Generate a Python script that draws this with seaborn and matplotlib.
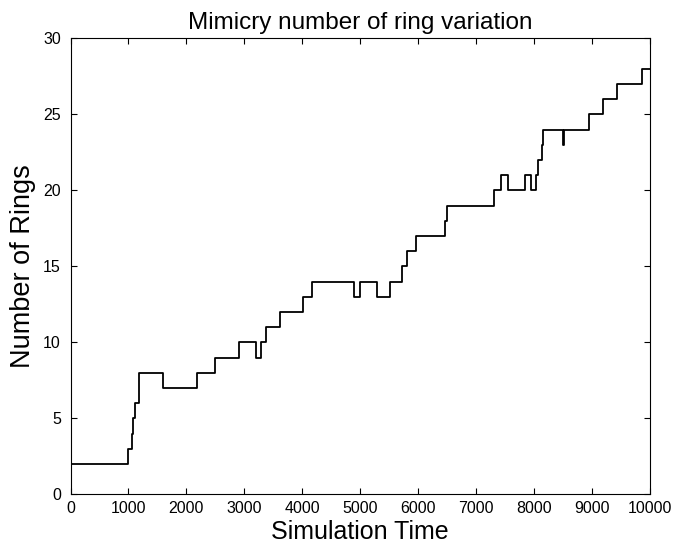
import matplotlib
matplotlib.use("Agg")
import matplotlib.pyplot as plt
from matplotlib import font_manager
import seaborn as sns
import pandas as pd

# Simulation times at which the ring count changes, and the count from that time on
change_times = [0, 985, 1056, 1084, 1110, 1190, 1590, 2185, 2490, 2910,
                3205, 3290, 3380, 3610, 4005, 4170, 4900, 4990, 5290, 5520,
                5716, 5800, 5965, 6455, 6495, 7313, 7430, 7545, 7840, 7950,
                8030, 8060, 8130, 8160, 8500, 8515, 8955, 9185, 9425, 9860,
                10000]
ring_counts = [2, 3, 4, 5, 6, 8, 7, 8, 9, 10,
               9, 10, 11, 12, 13, 14, 13, 14, 13, 14,
               15, 16, 17, 18, 19, 20, 21, 20, 21, 20,
               21, 22, 23, 24, 23, 24, 25, 26, 27, 28,
               28]

x_ticks = list(range(0, 10001, 1000))
y_ticks = list(range(0, 31, 5))

title = "Mimicry number of ring variation"
x_label = "Simulation Time"
y_label = "Number of Rings"

sns.set_style("white")
names = {f.name for f in font_manager.fontManager.ttflist}
label_font = "Liberation Sans" if "Liberation Sans" in names else "DejaVu Sans"
tick_font = "Liberation Sans Narrow" if "Liberation Sans Narrow" in names else label_font
plt.rcParams["font.family"] = [label_font, "DejaVu Sans"]
plt.rcParams["text.color"] = "black"
plt.rcParams["axes.labelcolor"] = "black"
plt.rcParams["xtick.color"] = "black"
plt.rcParams["ytick.color"] = "black"

df = pd.DataFrame({"time": change_times, "rings": ring_counts})

fig = plt.figure(figsize=(6.73, 5.52), dpi=100)
ax = fig.add_axes([0.1048, 0.1045, 0.9658 - 0.1048, 0.9306 - 0.1045])

sns.lineplot(data=df, x="time", y="rings", drawstyle="steps-post",
             color="black", linewidth=1.3, ax=ax, estimator=None)

ax.set_xlim(0, 10000)
ax.set_ylim(0, 30)
ax.set_xticks(x_ticks)
ax.set_yticks(y_ticks)
ax.set_xticklabels([str(t) for t in x_ticks], fontfamily=tick_font, fontsize=11.5)
ax.set_yticklabels([str(t) for t in y_ticks], fontfamily=tick_font, fontsize=11.5)
ax.tick_params(axis="both", direction="in", length=4, width=0.8, colors="black",
               top=True, right=True, bottom=True, left=True)
ax.tick_params(axis="x", pad=5)
ax.tick_params(axis="y", pad=7)

for spine in ax.spines.values():
    spine.set_visible(True)
    spine.set_color("black")
    spine.set_linewidth(0.8)

ax.set_title(title, fontsize=17.5, pad=7, color="black")
ax.set_xlabel(x_label, fontsize=18, labelpad=3)
ax.set_ylabel(y_label, fontsize=19.5, labelpad=5)
ax.grid(False)

fig.savefig("out.png", dpi=100, facecolor="white")
